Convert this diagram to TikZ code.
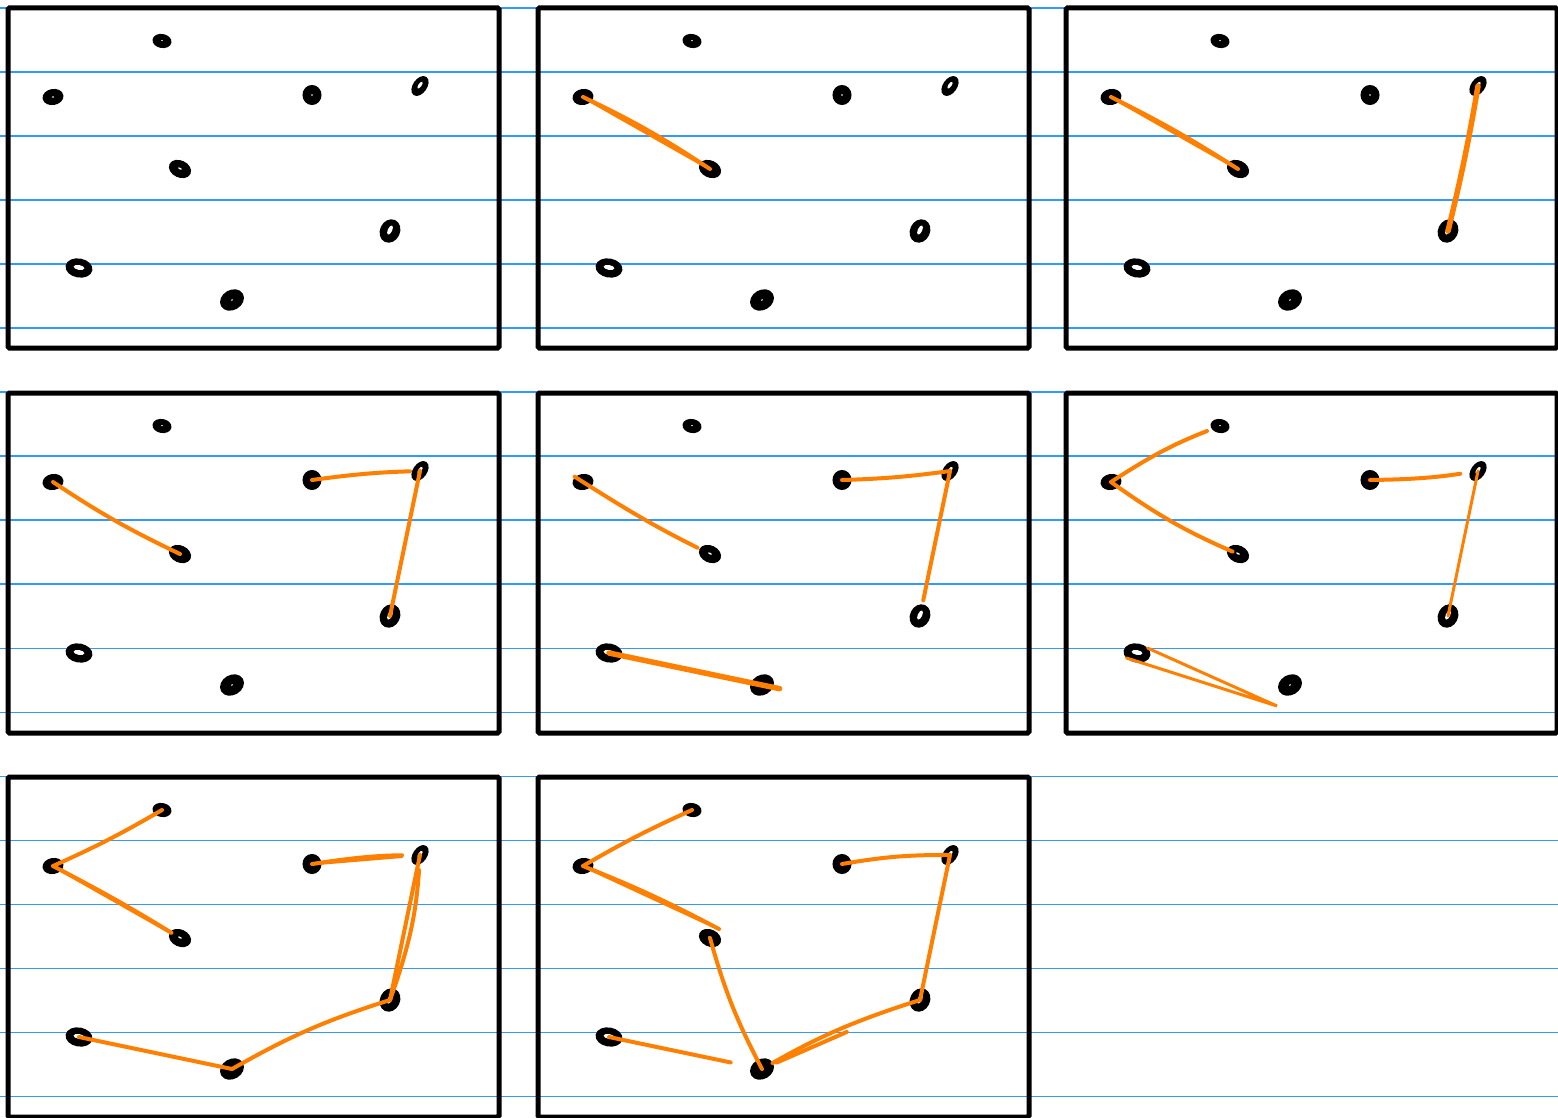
\documentclass[tikz,border=0pt]{standalone}
\usetikzlibrary{shapes.geometric,calc}
\definecolor{ruleblue}{RGB}{51,153,255}
\definecolor{penorange}{RGB}{255,128,0}
\begin{document}
\begin{tikzpicture}[
  x=1pt, y=-1pt,
  rule/.style={draw=ruleblue, line width=1.6pt},
  frame/.style={draw, line width=5pt, rounded corners=1.5pt},
  dot/.style={draw, fill, ellipse, line width=4pt, inner sep=0pt},
  pen/.style={draw=penorange, line width=4pt, line cap=round},
  thinpen/.style={pen, line width=3pt}
]
\useasboundingbox (0,0) rectangle (1558,1118);
\foreach \k in {0,...,17}
  \draw[rule] (0,8+64.03*\k) -- (1558,8+64.03*\k);
\foreach \p/\cx/\cy in {1/0/0,2/530/0,3/1058/0,4/0/385,5/530/385,6/1058/385,7/0/769,8/530/769}{
  \begin{scope}[shift={(\cx,\cy)}]
    \draw[frame] (8,8) rectangle (499,348);
    \foreach \n/\x/\y/\w/\h/\r/\hx/\hy in {a/162/41/15/10/-10/1/0.6, b/53/97/17/12/10/1.2/0.8,
        c/312/95/15/16/0/1/0.8, d/420/86/18/10/55/4/1.6, e/180/169/19/13/-25/2/0.8,
        f/390/231/20/16/65/5/2.2, g/79/268/23/15/-10/5.5/2.4, h/232/300/21/16/30/1/0.8}
      \node[dot, minimum width=\w pt, minimum height=\h pt, rotate=\r,
        path picture={\fill[white] (path picture bounding box.center) ellipse [x radius=\hx pt, y radius=\hy pt];}]
        (\n\p) at (\x,\y) {};
  \end{scope}
}
\draw[pen] (b2.center) to[bend left=4] (e2.center);
\draw[thinpen] (b2.center) -- (e2.center);
\draw[pen] (b3.center) to[bend left=3] (e3.center);
\draw[thinpen] (b3.center) -- (e3.center);
\draw[pen, line width=5.5pt] (d3.center) to[bend left=2] (f3.center);
\draw[pen] (b4.center) to[bend right=4] (e4.center);
\draw[pen, shorten >=10pt] (c4.center) to[bend left=3] (d4.center);
\draw[pen] (d4.center) -- (f4.center);
\draw[pen, shorten <=-10pt, shorten >=14pt] (b5.center) to[bend right=3] (e5.center);
\draw[pen] (c5.center) to[bend right=3] (d5.center);
\draw[pen, shorten >=16pt] (d5.center) -- (f5.center);
\draw[pen, line width=5.5pt, shorten >=-18pt] (g5.center) -- (h5.center);
\coordinate (gh6) at ($(h6)+(-13,21)$);
\draw[pen, shorten <=14pt] (a6.center) to[bend right=6] (b6.center);
\draw[pen, shorten >=6pt] (b6.center) to[bend right=6] (e6.center);
\draw[pen, shorten >=18pt] (c6.center) to[bend right=4] (d6.center);
\draw[thinpen] (d6.center) -- (f6.center);
\draw[thinpen] (g6.north east) -- (gh6) -- (g6.south west);
\draw[pen] (a7.center) to[bend left=3] (b7.center);
\draw[pen, shorten >=10pt] (b7.center) to[bend left=2] (e7.center);
\draw[thinpen, shorten >=10pt] (b7.center) -- (e7.center);
\draw[pen, shorten >=18pt] (c7.center) to[bend left=4] (d7.center);
\draw[thinpen, shorten >=18pt] (c7.center) -- (d7.center);
\draw[pen] (d7.center) -- (f7.center);
\draw[pen, shorten <=15pt] (d7.center) to[bend left=8] (f7.center);
\draw[pen] (f7.center) to[bend right=6] (h7.center);
\draw[pen] (g7.center) -- (h7.center);
\coordinate (be8) at ($(e8)+(9,-9)$);
\draw[pen] (a8.center) to[bend right=3] (b8.center);
\draw[pen] (b8.center) to[bend left=3] (be8);
\draw[thinpen] (b8.center) -- (be8);
\draw[pen] (e8.center) to[bend right=6] (h8.center);
\draw[pen] (c8.center) to[bend left=5] (d8.center);
\draw[pen] (d8.center) -- (f8.center);
\draw[pen, shorten >=12pt] (f8.center) to[bend right=6] (h8.center);
\draw[pen, shorten <=80pt, shorten >=16pt] (f8.center) -- (h8.center);
\draw[pen, shorten >=32pt] (g8.center) -- (h8.center);
\end{tikzpicture}
\end{document}
